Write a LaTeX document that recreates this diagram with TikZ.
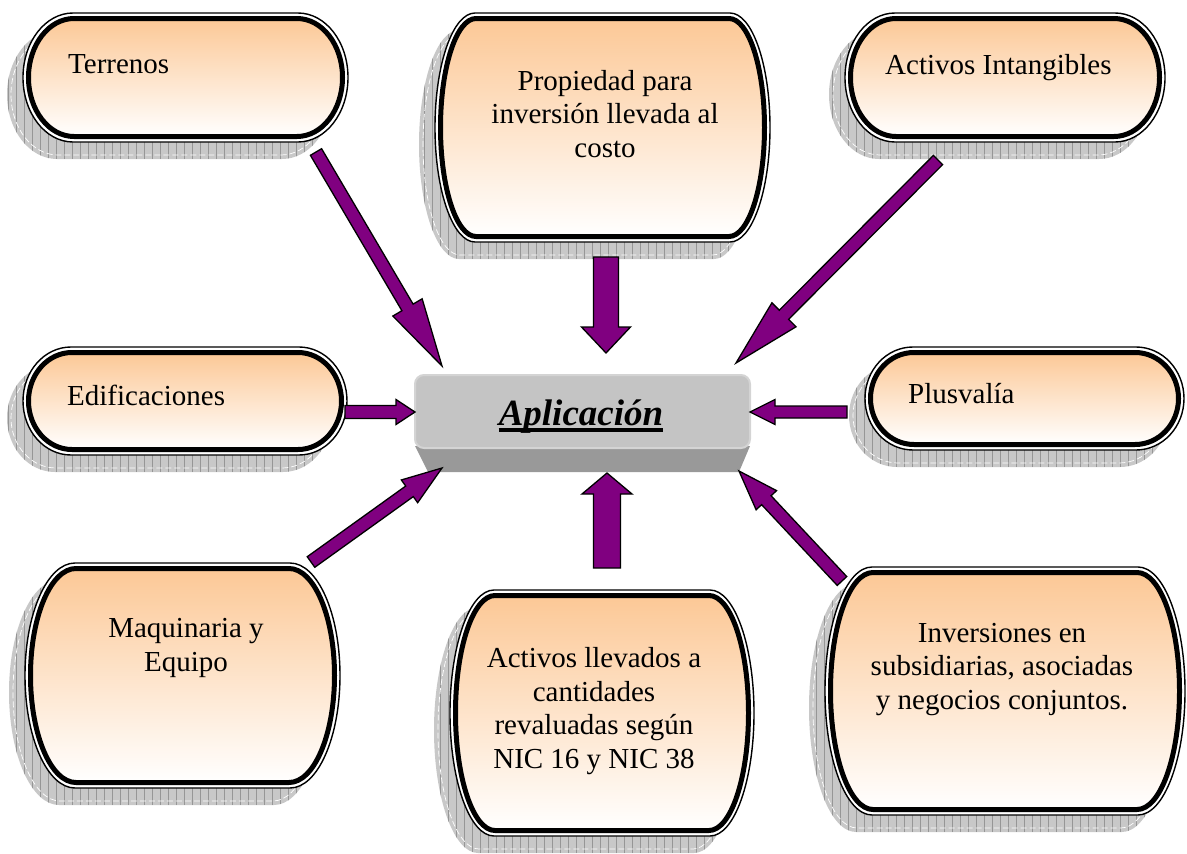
\documentclass[tikz,border=0pt]{standalone}
\usepackage{fontspec}
\setmainfont{Liberation Serif}
\usetikzlibrary{calc}

\definecolor{peach}{RGB}{252,200,150}
\definecolor{arrowpurple}{RGB}{128,0,128}
\definecolor{keyface}{RGB}{196,196,196}
\definecolor{keyrim}{RGB}{212,212,212}
\definecolor{keyside}{RGB}{153,153,153}
\definecolor{shadowgray}{RGB}{200,200,200}
\definecolor{shadowline}{RGB}{150,150,150}

\tikzset{
  shadowfill/.style={fill=shadowgray},
  shadowgrid/.style={draw=shadowline, line width=0.6pt, step=8},
  shadowedge/.style={draw=white, line width=0.7pt, dash pattern=on 6pt off 3pt},
  frameouter/.style={draw=black, fill=white, line width=1.4pt},
  frameinner/.style={draw=black, line width=5pt, top color=peach, bottom color=white},
  arrowbody/.style={fill=arrowpurple, draw=black, line width=1.3pt, line join=miter},
  boxtext/.style={font=\fontsize{29}{33.5}\selectfont, inner sep=0pt},
  keytext/.style={font=\fontsize{37}{40}\selectfont\bfseries\itshape, inner sep=0pt},
}

% capsule: straight top and bottom edges, half-elliptic ends of horizontal radius #5
\newcommand\capsulepath[5]{%
  ({(#1)+(#5)},{#2}) -- ({(#3)-(#5)},{#2})
  .. controls ({(#3)-0.4477*(#5)},{#2}) and ({#3},{((#2)+(#4))/2-0.27615*((#4)-(#2))}) .. ({#3},{((#2)+(#4))/2})
  .. controls ({#3},{((#2)+(#4))/2+0.27615*((#4)-(#2))}) and ({(#3)-0.4477*(#5)},{#4}) .. ({(#3)-(#5)},{#4})
  -- ({(#1)+(#5)},{#4})
  .. controls ({(#1)+0.4477*(#5)},{#4}) and ({#1},{((#2)+(#4))/2+0.27615*((#4)-(#2))}) .. ({#1},{((#2)+(#4))/2})
  .. controls ({#1},{((#2)+(#4))/2-0.27615*((#4)-(#2))}) and ({(#1)+0.4477*(#5)},{#2}) .. ({(#1)+(#5)},{#2}) -- cycle}

% framed box with hatched drop shadow
\newcommand\capsulebox[5]{%
  \begin{scope}[shift={(-16,17)}]
    \fill[shadowfill] \capsulepath{#1}{#2}{#3}{#4}{#5};
    \begin{scope}
      \clip \capsulepath{#1}{#2}{#3}{#4}{#5};
      \draw[shadowgrid] ({#1},{#2}) grid ({#3},{#4});
    \end{scope}
    \draw[shadowedge] \capsulepath{(#1)+4}{(#2)+4}{(#3)-4}{(#4)-4}{(#5)-3};
  \end{scope}
  \path[frameouter] \capsulepath{#1}{#2}{#3}{#4}{#5};
  \path[frameinner] \capsulepath{(#1)+5.5}{(#2)+5.5}{(#3)-5.5}{(#4)-5.5}{(#5)-4.5};
}

% block arrow: tail, tip, shaft half width, head half width, head length
\newcommand\blockarrow[5]{%
  \coordinate (neck) at ($(#2)!#5pt!(#1)$);
  \path[arrowbody] ($(#1)!#3pt!90:(#2)$) -- ($(neck)!#3pt!90:(#2)$) -- ($(neck)!#4pt!90:(#2)$)
    -- (#2) -- ($(neck)!#4pt!-90:(#2)$) -- ($(neck)!#3pt!-90:(#2)$) -- ($(#1)!#3pt!-90:(#2)$) -- cycle;
}

\begin{document}
\begin{tikzpicture}[x=1pt, y=-1pt]
\useasboundingbox (0,0) rectangle (1187,854);

% frames
\capsulebox{23}{13}{348}{142}{50}
\capsulebox{435}{13}{770}{242}{40}
\capsulebox{845}{13}{1165}{142}{50}
\capsulebox{23}{347}{347}{455}{48}
\capsulebox{865}{347}{1184}{450}{48}
\capsulebox{25}{563}{340}{788}{50}
\capsulebox{450}{590}{754}{836}{44}
\capsulebox{825}{567}{1185}{815}{47}

% texts (multi-line nodes are placed by the baseline of their last line)
\node[boxtext, anchor=base west] (terrenos) at (68,73) {Terrenos};
\node[boxtext, anchor=base, align=center] (propiedad) at (605,157) {Propiedad para\\inversión llevada al\\costo};
\node[boxtext, anchor=base west] (intangibles) at (885,74) {Activos Intangibles};
\node[boxtext, anchor=base west] (edificaciones) at (67,405) {Edificaciones};
\node[boxtext, anchor=base west] (plusvalia) at (908,403) {Plusvalía};
\node[boxtext, anchor=base, align=center] (maquinaria) at (186,671) {Maquinaria y\\Equipo};
\node[boxtext, anchor=base, align=center] (revaluados) at (594,768) {Activos llevados a\\cantidades\\revaluadas según\\NIC 16 y NIC 38};
\node[boxtext, anchor=base, align=center] (inversiones) at (1002,709) {Inversiones en\\subsidiarias, asociadas\\y negocios conjuntos.};

% central key
\fill[keyside] (415,446) -- (750,446) -- (739,472) -- (428,472) -- cycle;
\path[fill=keyface, draw=keyrim, line width=2pt, rounded corners=9] (415,375) rectangle (750,448);
\node[keytext, anchor=base] (aplicacion) at (581,425) {Aplicación};
\draw[line width=3.5pt] ([yshift=-5pt]aplicacion.base west) -- ([yshift=-5pt]aplicacion.base east);

% arrow ends
\coordinate (terrenos-out) at (316,152);
\coordinate (terrenos-in) at (442,366);
\coordinate (propiedad-out) at (606,257);
\coordinate (propiedad-in) at (606,353);
\coordinate (intangibles-out) at (938,160);
\coordinate (intangibles-in) at (736,363);
\coordinate (edificaciones-out) at (345,412);
\coordinate (edificaciones-in) at (415,412);
\coordinate (plusvalia-out) at (847,412);
\coordinate (plusvalia-in) at (750,412);
\coordinate (maquinaria-out) at (311,562);
\coordinate (maquinaria-in) at (442,468);
\coordinate (revaluados-out) at (607,568);
\coordinate (revaluados-in) at (607,473);
\coordinate (inversiones-out) at (842,581);
\coordinate (inversiones-in) at (739,471);

\blockarrow{terrenos-out}{terrenos-in}{6.5}{17}{68}
\blockarrow{propiedad-out}{propiedad-in}{12.5}{24.5}{26}
\blockarrow{intangibles-out}{intangibles-in}{6.5}{17}{68}
\blockarrow{edificaciones-out}{edificaciones-in}{6.5}{12.5}{19}
\blockarrow{plusvalia-out}{plusvalia-in}{6}{12.5}{25}
\blockarrow{maquinaria-out}{maquinaria-in}{6.5}{14}{40}
\blockarrow{revaluados-out}{revaluados-in}{13.5}{25}{21}
\blockarrow{inversiones-out}{inversiones-in}{6.5}{14}{40}
\end{tikzpicture}
\end{document}
